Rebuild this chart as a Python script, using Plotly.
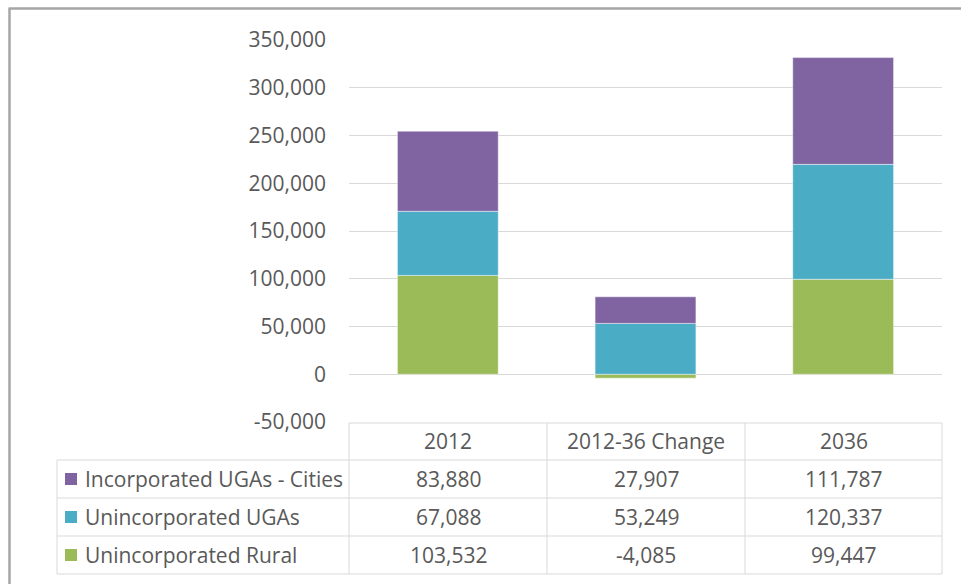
import plotly.graph_objects as go

# ---- data ----
categories = ["2012", "2012-36 Change", "2036"]
series_names = ["Incorporated UGAs - Cities", "Unincorporated UGAs", "Unincorporated Rural"]
cities = [83880, 27907, 111787]
unincorporated_ugas = [67088, 53249, 120337]
unincorporated_rural = [103532, -4085, 99447]
y_min, y_max, y_step = -50000, 350000, 50000
y_tick_values = list(range(y_min, y_max + 1, y_step))
y_tick_labels = [f"{v:,}" for v in y_tick_values]

series_values = [cities, unincorporated_ugas, unincorporated_rural]
series_colors = ["#8064A2", "#4BACC6", "#9BBB59"]

W, H = 961, 584
L, R, T, B = 349, 942, 40, 422
FONT = "Open Sans"
FS = 21
TXT = "#595959"
GRID = "#d9d9d9"


def px(x):
    return (x - L) / (R - L)


def py(y):
    return (B - y) / (B - T)


fig = go.Figure()
# draw bottom-up: rural, ugas, cities
for name, vals, col in reversed(list(zip(series_names, series_values, series_colors))):
    fig.add_trace(go.Bar(
        x=categories, y=vals, name=name,
        marker=dict(color=col, line=dict(color="rgba(255,255,255,0.45)", width=1)),
        showlegend=False,
    ))

shapes = []
annotations = []


def hline(x0, x1, y, color=GRID, w=1):
    shapes.append(dict(type="line", xref="paper", yref="paper",
                       x0=px(x0), x1=px(x1), y0=py(y), y1=py(y),
                       line=dict(color=color, width=w)))


def vline(x, y0, y1, color=GRID, w=1):
    shapes.append(dict(type="line", xref="paper", yref="paper",
                       x0=px(x), x1=px(x), y0=py(y0), y1=py(y1),
                       line=dict(color=color, width=w)))


# table grid
col_edges = [349, 547, 745, 942]
row_edges = [460, 498, 536, 574]
hline(349, 942, 423)
for y in row_edges:
    hline(57, 942, y)
vline(57, 460, 574)
for x in col_edges:
    vline(x, 423, 574)

# header
for j, cat in enumerate(categories):
    cx = (col_edges[j] + col_edges[j + 1]) / 2
    annotations.append(dict(xref="paper", yref="paper", x=px(cx), y=py(441.5),
                            text=cat, showarrow=False, xanchor="center", yanchor="middle",
                            font=dict(family=FONT, size=FS, color=TXT)))

# rows
for i, (name, vals, col) in enumerate(zip(series_names, series_values, series_colors)):
    cy = (row_edges[i] + row_edges[i + 1]) / 2
    shapes.append(dict(type="rect", xref="paper", yref="paper",
                       x0=px(65), x1=px(77), y0=py(cy - 6), y1=py(cy + 6),
                       fillcolor=col, line=dict(width=0)))
    annotations.append(dict(xref="paper", yref="paper", x=px(83), y=py(cy),
                            text=name, showarrow=False, xanchor="left", yanchor="middle",
                            font=dict(family=FONT, size=FS, color=TXT)))
    for j, v in enumerate(vals):
        cx = (col_edges[j] + col_edges[j + 1]) / 2
        annotations.append(dict(xref="paper", yref="paper", x=px(cx), y=py(cy),
                                text=f"{v:,}", showarrow=False, xanchor="center", yanchor="middle",
                                font=dict(family=FONT, size=FS, color=TXT)))

# outer frame (left and top edges)
shapes.append(dict(type="line", xref="paper", yref="paper",
                   x0=px(9.5), x1=px(9.5), y0=py(8.5), y1=py(600),
                   line=dict(color="#a6a6a6", width=2.5)))
shapes.append(dict(type="line", xref="paper", yref="paper",
                   x0=px(8.5), x1=px(970), y0=py(8.5), y1=py(8.5),
                   line=dict(color="#a6a6a6", width=2.5)))

fig.update_layout(
    width=W, height=H,
    margin=dict(l=L, r=W - R, t=T, b=H - B, pad=0),
    barmode="relative",
    bargap=0.49,
    plot_bgcolor="white", paper_bgcolor="white",
    font=dict(family=FONT, size=FS, color=TXT),
    shapes=shapes,
    annotations=annotations,
    xaxis=dict(showticklabels=False, showgrid=False, zeroline=False, showline=False, ticks=""),
    yaxis=dict(range=[y_min, y_max], tickvals=y_tick_values, ticktext=y_tick_labels,
               showgrid=True, gridcolor=GRID, gridwidth=1,
               zeroline=True, zerolinecolor=GRID, zerolinewidth=1,
               showline=False, ticks="", ticklabelstandoff=22,
               tickfont=dict(family=FONT, size=FS, color=TXT)),
)

fig.write_html("out.html", config={"displayModeBar": False},
               post_script="document.body.style.margin='0';document.body.style.overflow='hidden';")
